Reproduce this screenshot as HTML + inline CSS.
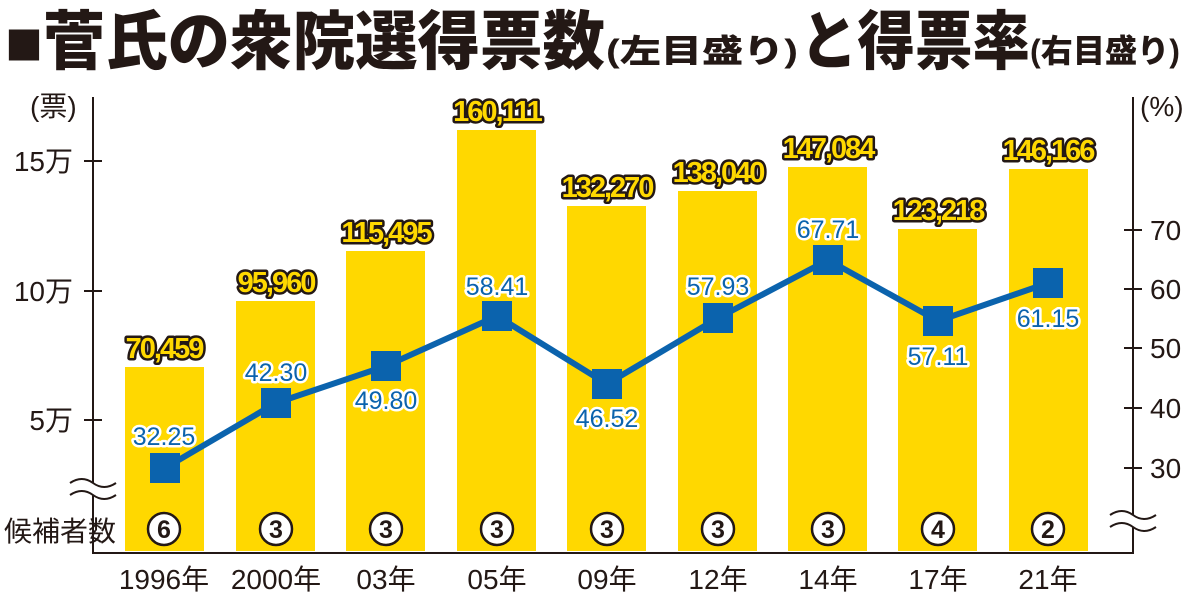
<!DOCTYPE html>
<html><head><meta charset="utf-8"><style>
body{margin:0;background:#fff}
svg{display:block}
.t{font-family:"Liberation Sans","Noto Sans CJK JP",sans-serif;font-weight:900;fill:#231815}
.ax{font-family:"Liberation Sans","Noto Sans CJK JP",sans-serif;font-size:28px;fill:#231815}
.v{font-family:"Liberation Sans",sans-serif;font-weight:bold;font-size:29px;fill:#ffd800;stroke:#231815;stroke-width:5;paint-order:stroke;stroke-linejoin:round;text-anchor:middle;letter-spacing:-2px}
.p{font-family:"Liberation Sans",sans-serif;font-size:25px;fill:#0b63ad;stroke:#fff;stroke-width:5;paint-order:stroke;stroke-linejoin:round;text-anchor:middle}
.c{font-family:"Liberation Sans",sans-serif;font-size:25px;font-weight:bold;fill:#231815;text-anchor:middle}
</style></head><body>
<svg width="1200" height="602" viewBox="0 0 1200 602">
<text class="t" x="5" y="64" font-size="64" textLength="600" lengthAdjust="spacingAndGlyphs">■菅氏の衆院選得票数</text>
<text class="t" x="606" y="62" font-size="32" textLength="192" lengthAdjust="spacingAndGlyphs">(左目盛り)</text>
<text class="t" x="800" y="64" font-size="64" textLength="230" lengthAdjust="spacingAndGlyphs">と得票率</text>
<text class="t" x="1030" y="62" font-size="32" textLength="150" lengthAdjust="spacingAndGlyphs">(右目盛り)</text>

<g fill="#ffd800">
<rect x="125" y="367" width="79" height="184"/>
<rect x="236" y="301" width="79" height="250"/>
<rect x="346" y="251" width="79" height="300"/>
<rect x="457" y="130" width="79" height="421"/>
<rect x="567" y="206" width="79" height="345"/>
<rect x="678" y="191" width="79" height="360"/>
<rect x="788" y="167" width="79" height="384"/>
<rect x="898" y="229" width="79" height="322"/>
<rect x="1009" y="169" width="79" height="382"/>
</g>

<g stroke="#231815" stroke-width="2" fill="none">
<path d="M93 97V553H1133V97"/>
<path d="M84 161H102M84 291H102M84 420H102"/>
<path d="M1124 230H1142M1124 289H1142M1124 348H1142M1124 408H1142M1124 468H1142"/>
</g>
<g stroke="#231815" stroke-width="2" fill="#fff">
<path d="M70 483q12-8 23 0t23 0v12q-12 8-23 0t-23 0z" stroke="none"/>
<path d="M70 483q12-8 23 0t23 0M70 495q12-8 23 0t23 0" fill="none"/>
<path d="M1110 515q12-8 23 0t23 0v12q-12 8-23 0t-23 0z" stroke="none"/>
<path d="M1110 515q12-8 23 0t23 0M1110 527q12-8 23 0t23 0" fill="none"/>
</g>

<text class="ax" x="30" y="116" font-size="26">(票)</text>
<text class="ax" x="1140" y="116" font-size="26">(%)</text>
<text class="ax" x="73" y="171" text-anchor="end">15万</text>
<text class="ax" x="73" y="301" text-anchor="end">10万</text>
<text class="ax" x="73" y="430" text-anchor="end">5万</text>
<g class="ax" font-size="29"><text x="1150" y="240">70</text><text x="1150" y="299">60</text><text x="1150" y="358">50</text><text x="1150" y="418">40</text><text x="1150" y="478">30</text></g>
<text class="ax" x="4" y="541" font-size="22">候補者数</text>
<g class="ax" text-anchor="middle" font-size="25">
<text x="164" y="589">1996年</text><text x="276" y="589">2000年</text><text x="386" y="589">03年</text><text x="497" y="589">05年</text><text x="607" y="589">09年</text><text x="718" y="589">12年</text><text x="828" y="589">14年</text><text x="938" y="589">17年</text><text x="1048" y="589">21年</text>
</g>

<g class="v">
<text x="164" y="358">70,459</text><text x="276" y="292">95,960</text><text x="386" y="242">115,495</text><text x="497" y="121">160,111</text><text x="607" y="197">132,270</text><text x="718" y="182">138,040</text><text x="828" y="158">147,084</text><text x="938" y="220">123,218</text><text x="1048" y="160">146,166</text>
</g>

<polyline points="165,468 276,403 386,366 497,316 607,384 718,318 828,260 938,321 1048,283" fill="none" stroke="#0b63ad" stroke-width="6"/>
<g fill="#0b63ad">
<rect x="150" y="453" width="30" height="30"/><rect x="261" y="388" width="30" height="30"/><rect x="371" y="351" width="30" height="30"/><rect x="482" y="301" width="30" height="30"/><rect x="592" y="369" width="30" height="30"/><rect x="703" y="303" width="30" height="30"/><rect x="813" y="245" width="30" height="30"/><rect x="923" y="306" width="30" height="30"/><rect x="1033" y="268" width="30" height="30"/>
</g>
<g class="p">
<text x="164" y="445">32.25</text><text x="276" y="381">42.30</text><text x="386" y="409">49.80</text><text x="497" y="295">58.41</text><text x="607" y="427">46.52</text><text x="718" y="295">57.93</text><text x="828" y="238">67.71</text><text x="938" y="365">57.11</text><text x="1048" y="327">61.15</text>
</g>

<g fill="#fff" stroke="#231815" stroke-width="2.5">
<circle cx="164" cy="529" r="16"/><circle cx="276" cy="529" r="16"/><circle cx="386" cy="529" r="16"/><circle cx="497" cy="529" r="16"/><circle cx="607" cy="529" r="16"/><circle cx="718" cy="529" r="16"/><circle cx="828" cy="529" r="16"/><circle cx="938" cy="529" r="16"/><circle cx="1048" cy="529" r="16"/>
</g>
<g class="c">
<text x="164" y="538">6</text><text x="276" y="538">3</text><text x="386" y="538">3</text><text x="497" y="538">3</text><text x="607" y="538">3</text><text x="718" y="538">3</text><text x="828" y="538">3</text><text x="938" y="538">4</text><text x="1048" y="538">2</text>
</g>
</svg>
</body></html>
